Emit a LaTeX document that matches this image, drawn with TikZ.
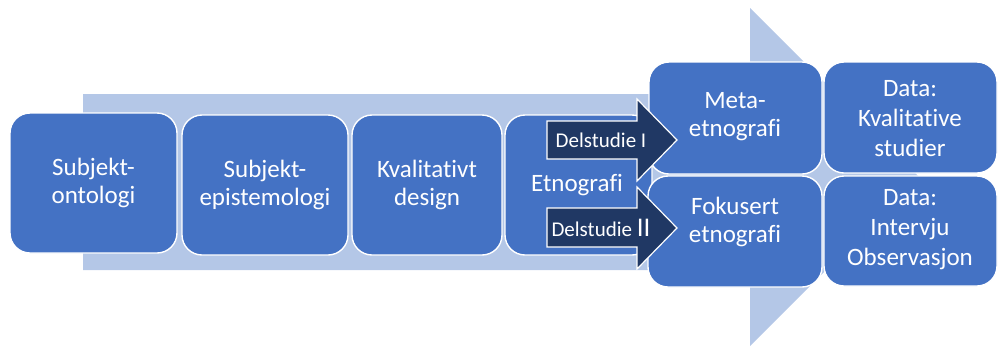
\documentclass[tikz,border=0pt]{standalone}
\usepackage{fontspec}
\setmainfont[Ligatures=NoCommon]{Carlito}
\definecolor{boxblue}{HTML}{4472C4}
\definecolor{bandblue}{HTML}{B4C7E7}
\definecolor{navy}{HTML}{203864}
\begin{document}
\begin{tikzpicture}[x=1pt,y=-1pt,
  stage/.style={draw=white,line width=1.4pt,fill=boxblue,rounded corners=20pt,
    text=white,align=center,inner sep=0pt},
  label/.style={text=white,align=center,font=\fontsize{25}{28}\selectfont},
  datalabel/.style={text=white,align=center,font=\fontsize{25}{30}\selectfont},
  studylabel/.style={text=white,font=\fontsize{21}{22}\selectfont,inner sep=0pt},
  studyarrow/.style={draw=white,line width=1.2pt,fill=navy,line join=miter}]
\useasboundingbox (0,0) rectangle (998,354);

% wide background arrow
\fill[bandblue] (83,94) -- (750,94) -- (750,8) -- (919,177) -- (750,346)
  -- (750,270) -- (83,270) -- cycle;

% stage boxes along the band
\draw[stage] (10,113) rectangle (177,253);
\node[label] (ont) at (93.5,183) {Subjekt-\\ontologi};
\draw[stage] (182,115) rectangle (348,255);
\node[label] (epi) at (265,185) {Subjekt-\\epistemologi};
\draw[stage] (352,115) rectangle (502,255);
\node[label] (des) at (427,185) {Kvalitativt\\design};
\draw[stage] (505,115) rectangle (652,255);
\node[label] (etn) at (577,185) {Etnografi};

% right-hand boxes
\draw[stage] (649,62) rectangle (822,174);
\node[label] (meta) at (735,117) {Meta-\\etnografi};
\draw[stage] (648,176) rectangle (822,287);
\node[label] (fok) at (735,222) {Fokusert\\etnografi};
\draw[stage] (824,62) rectangle (997,173);
\node[datalabel] (d1) at (910,119) {Data:\\Kvalitative\\studier};
\draw[stage] (824,176) rectangle (997,286);
\node[datalabel] (d2) at (910,230) {Data:\\Intervju\\Observasjon};

% sub-study arrows
\draw[studyarrow] (547,121) -- (637,121) -- (637,99) -- (677,140) -- (637,181)
  -- (637,159) -- (547,159) -- cycle;
\node[studylabel] (s1) at (601,140) {Delstudie I};
\draw[studyarrow] (547,208) -- (637,208) -- (637,187) -- (677,228) -- (637,269)
  -- (637,247) -- (547,247) -- cycle;
\node[studylabel] (s2) at (601,228) {Delstudie {\fontsize{27}{27}\selectfont II}};
\end{tikzpicture}
\end{document}
